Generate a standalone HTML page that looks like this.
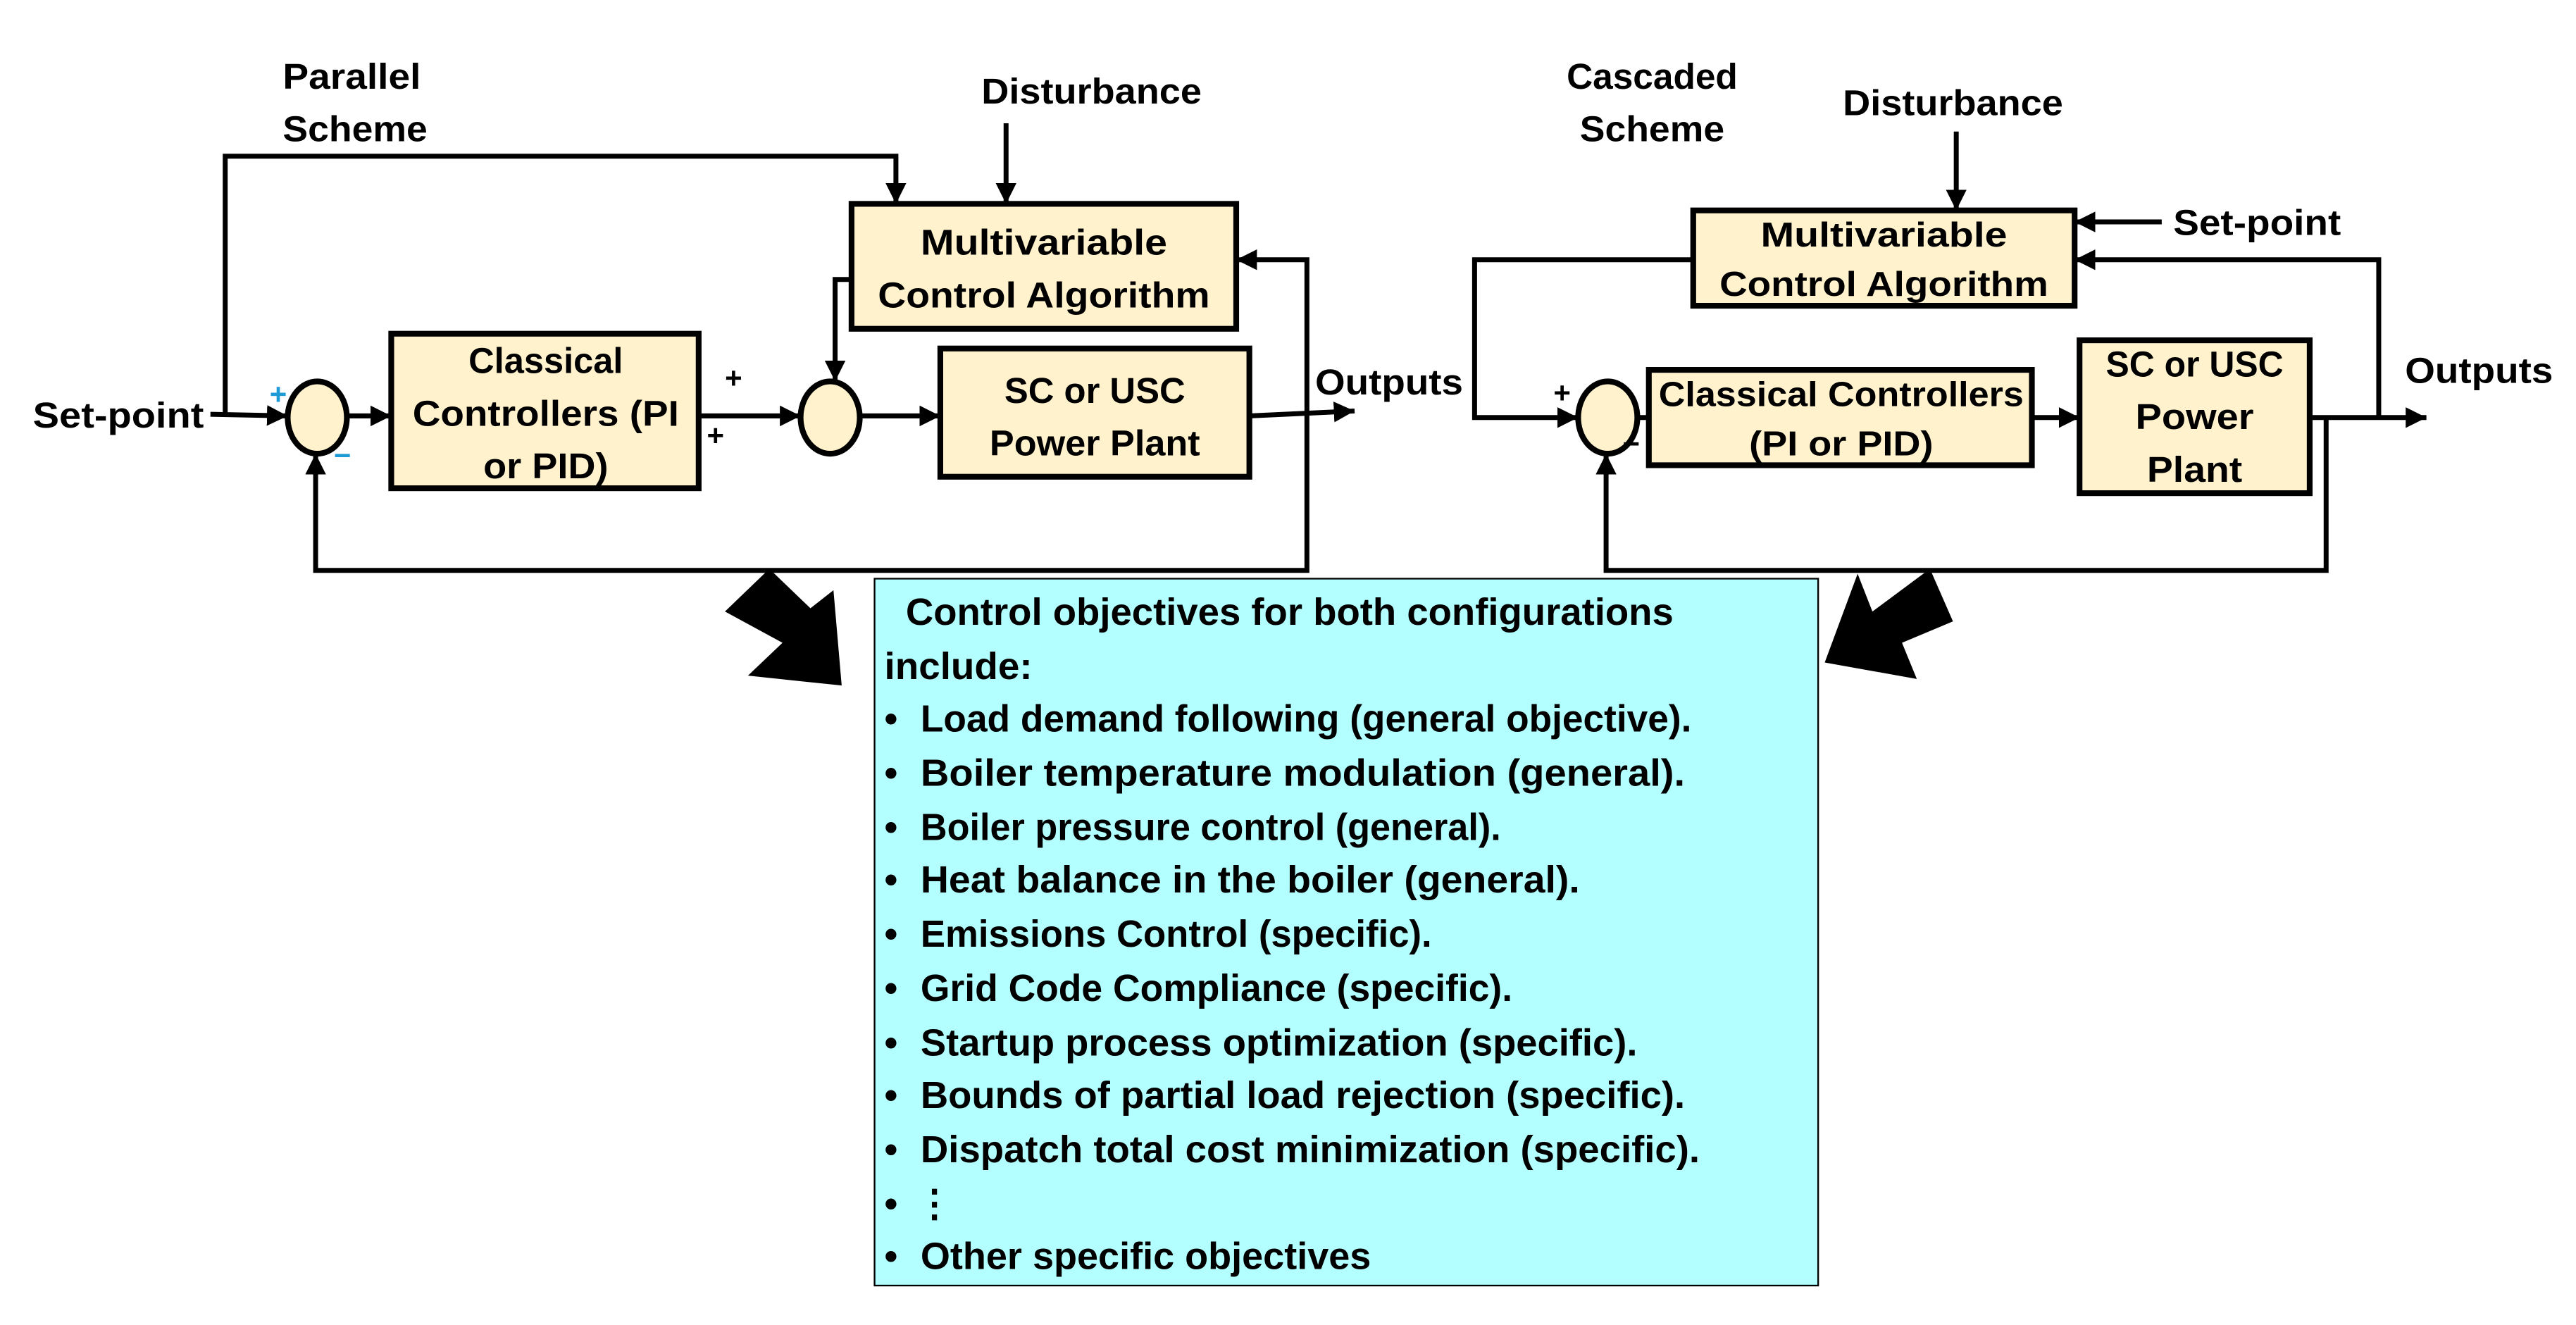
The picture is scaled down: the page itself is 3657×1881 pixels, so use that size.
<!DOCTYPE html>
<html><head><meta charset="utf-8"><style>
html,body{margin:0;padding:0;background:#fff;}
svg{display:block;}
text{font-family:"Liberation Sans Narrow","Liberation Sans",sans-serif;font-weight:bold;fill:#000;}
</style></head><body>
<svg width="3657" height="1881" viewBox="0 0 1567 806" preserveAspectRatio="none" xmlns="http://www.w3.org/2000/svg">
<defs>
<marker id="a" viewBox="0 0 10 10" refX="10" refY="5" markerWidth="4.2" markerHeight="4.2" orient="auto" markerUnits="strokeWidth"><path d="M0,0 L10,5 L0,10 z" fill="#000"/></marker>
</defs>
<g stroke="#000" stroke-width="3" fill="none">
<polyline points="137,252 137,95 545,95 545,124" marker-end="url(#a)"/>
<line x1="612" y1="75" x2="612" y2="124" marker-end="url(#a)"/>
<line x1="128" y1="252" x2="175" y2="253" marker-end="url(#a)"/>
<line x1="212" y1="253" x2="238" y2="253" marker-end="url(#a)"/>
<polyline points="518,170 508,170 508,232" marker-end="url(#a)"/>
<line x1="425" y1="253" x2="487" y2="253" marker-end="url(#a)"/>
<line x1="524" y1="253" x2="572" y2="253" marker-end="url(#a)"/>
<line x1="760" y1="253" x2="824" y2="250" marker-end="url(#a)"/>
<polyline points="795,252 795,158 752,158" marker-end="url(#a)"/>
<polyline points="795,252 795,347 192,347 192,276" marker-end="url(#a)"/>
<line x1="1190" y1="80" x2="1190" y2="128" marker-end="url(#a)"/>
<line x1="1315" y1="135" x2="1262" y2="135" marker-end="url(#a)"/>
<polyline points="1447,254 1447,158 1262,158" marker-end="url(#a)"/>
<polyline points="1030,158 897,158 897,254 960,254" marker-end="url(#a)"/>
<line x1="996" y1="254" x2="1003" y2="254"/>
<line x1="1236" y1="254" x2="1265" y2="254" marker-end="url(#a)"/>
<line x1="1405" y1="254" x2="1476" y2="254" marker-end="url(#a)"/>
<polyline points="1415,254 1415,347 977,347 977,276" marker-end="url(#a)"/>
</g>
<g fill="#fff2cc" stroke="#000" stroke-width="3.5">
<rect x="518" y="124" width="234" height="76"/>
<rect x="238" y="203" width="187" height="94"/>
<rect x="572" y="212" width="188" height="78"/>
<ellipse cx="193" cy="254" rx="18" ry="22"/>
<ellipse cx="505" cy="254" rx="18" ry="22"/>
<rect x="1030" y="128" width="232" height="58"/>
<rect x="1003" y="225" width="233" height="58"/>
<rect x="1265" y="207" width="140" height="93"/>
<ellipse cx="978" cy="254" rx="18" ry="22"/>
</g>
<polygon fill="#000" points="468,346 493,370 507,359 512,417 455,411 476,391 441,372"/>
<polygon fill="#000" points="1110,403 1130,349 1139,372 1174,346 1188,378 1157,391 1166,413"/>
<rect x="532" y="352" width="574" height="430" fill="#b3ffff" stroke="#000" stroke-width="1"/>
<g font-size="22">
<text x="172" y="54" textLength="84" lengthAdjust="spacingAndGlyphs">Parallel</text>
<text x="172" y="86" textLength="88" lengthAdjust="spacingAndGlyphs">Scheme</text>
<text x="597" y="63" textLength="134" lengthAdjust="spacingAndGlyphs">Disturbance</text>
<text x="20" y="260" textLength="104" lengthAdjust="spacingAndGlyphs">Set-point</text>
<text x="635" y="155" text-anchor="middle" textLength="150" lengthAdjust="spacingAndGlyphs">Multivariable</text>
<text x="635" y="187" text-anchor="middle" textLength="202" lengthAdjust="spacingAndGlyphs">Control Algorithm</text>
<text x="332" y="227" text-anchor="middle" textLength="94" lengthAdjust="spacingAndGlyphs">Classical</text>
<text x="332" y="259" text-anchor="middle" textLength="162" lengthAdjust="spacingAndGlyphs">Controllers (PI</text>
<text x="332" y="291" text-anchor="middle" textLength="76" lengthAdjust="spacingAndGlyphs">or PID)</text>
<text x="666" y="245" text-anchor="middle" textLength="110" lengthAdjust="spacingAndGlyphs">SC or USC</text>
<text x="666" y="277" text-anchor="middle" textLength="128" lengthAdjust="spacingAndGlyphs">Power Plant</text>
<text x="800" y="240" textLength="90" lengthAdjust="spacingAndGlyphs">Outputs</text>
<text x="953" y="54" textLength="104" lengthAdjust="spacingAndGlyphs">Cascaded</text>
<text x="961" y="86" textLength="88" lengthAdjust="spacingAndGlyphs">Scheme</text>
<text x="1121" y="70" textLength="134" lengthAdjust="spacingAndGlyphs">Disturbance</text>
<text x="1322" y="143" textLength="102" lengthAdjust="spacingAndGlyphs">Set-point</text>
<text x="1335" y="229" text-anchor="middle" textLength="108" lengthAdjust="spacingAndGlyphs">SC or USC</text>
<text x="1335" y="261" text-anchor="middle" textLength="72" lengthAdjust="spacingAndGlyphs">Power</text>
<text x="1335" y="293" text-anchor="middle" textLength="58" lengthAdjust="spacingAndGlyphs">Plant</text>
<text x="1463" y="233" textLength="90" lengthAdjust="spacingAndGlyphs">Outputs</text>
</g>
<g font-size="21">
<text x="1146" y="150" text-anchor="middle" textLength="150" lengthAdjust="spacingAndGlyphs">Multivariable</text>
<text x="1146" y="180" text-anchor="middle" textLength="200" lengthAdjust="spacingAndGlyphs">Control Algorithm</text>
<text x="1120" y="247" text-anchor="middle" textLength="222" lengthAdjust="spacingAndGlyphs">Classical Controllers</text>
<text x="1120" y="277" text-anchor="middle" textLength="112" lengthAdjust="spacingAndGlyphs">(PI or PID)</text>
</g>
<g font-size="18">
<text x="164" y="246" style="fill:#1e9ad6">+</text>
<text x="203" y="283" style="fill:#1e9ad6">−</text>
<text x="441" y="236">+</text>
<text x="430" y="271">+</text>
<text x="945" y="245">+</text>
<text x="987" y="276">−</text>
</g>
<g font-size="23">
<text x="551" y="380" textLength="467" lengthAdjust="spacingAndGlyphs">Control objectives for both configurations</text>
<text x="538" y="413" textLength="90" lengthAdjust="spacingAndGlyphs">include:</text>
<text x="538" y="445">•</text><text x="560" y="445" textLength="469" lengthAdjust="spacingAndGlyphs">Load demand following (general objective).</text>
<text x="538" y="478">•</text><text x="560" y="478" textLength="465" lengthAdjust="spacingAndGlyphs">Boiler temperature modulation (general).</text>
<text x="538" y="511">•</text><text x="560" y="511" textLength="353" lengthAdjust="spacingAndGlyphs">Boiler pressure control (general).</text>
<text x="538" y="543">•</text><text x="560" y="543" textLength="401" lengthAdjust="spacingAndGlyphs">Heat balance in the boiler (general).</text>
<text x="538" y="576">•</text><text x="560" y="576" textLength="311" lengthAdjust="spacingAndGlyphs">Emissions Control (specific).</text>
<text x="538" y="609">•</text><text x="560" y="609" textLength="360" lengthAdjust="spacingAndGlyphs">Grid Code Compliance (specific).</text>
<text x="538" y="642">•</text><text x="560" y="642" textLength="436" lengthAdjust="spacingAndGlyphs">Startup process optimization (specific).</text>
<text x="538" y="674">•</text><text x="560" y="674" textLength="465" lengthAdjust="spacingAndGlyphs">Bounds of partial load rejection (specific).</text>
<text x="538" y="707">•</text><text x="560" y="707" textLength="474" lengthAdjust="spacingAndGlyphs">Dispatch total cost minimization (specific).</text>
<text x="538" y="740">•</text><text x="557" y="740">⋮</text>
<text x="538" y="772">•</text><text x="560" y="772" textLength="274" lengthAdjust="spacingAndGlyphs">Other specific objectives</text>
</g>
</svg>
</body></html>
